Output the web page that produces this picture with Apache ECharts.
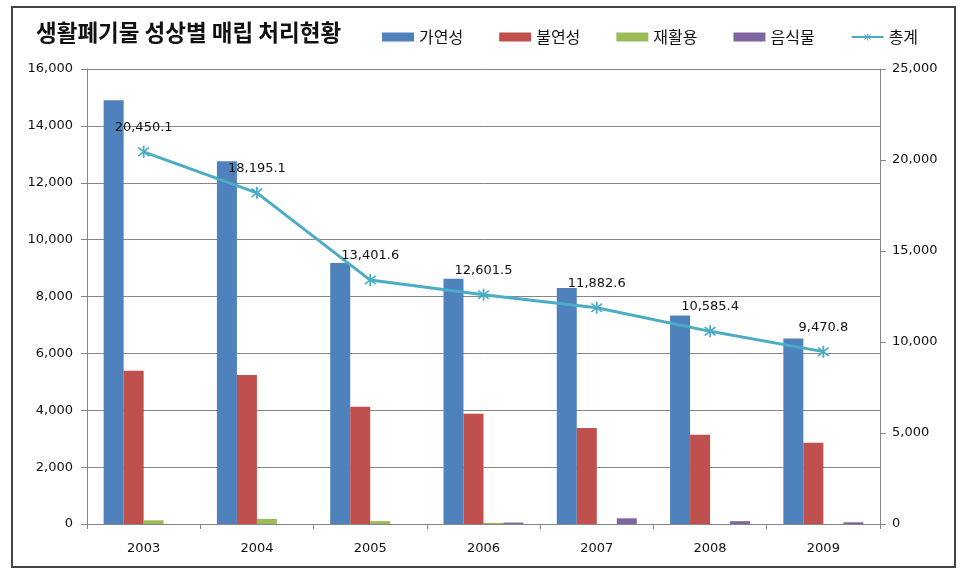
<!DOCTYPE html>
<html><head><meta charset="utf-8">
<script src="https://cdn.jsdelivr.net/npm/echarts@6/dist/echarts.min.js"></script>
<style>html,body{margin:0;padding:0;background:#fff}#c{width:966px;height:578px}</style>
</head><body><div id="c"></div>
<script>
const categories = ['2003','2004','2005','2006','2007','2008','2009'];
const combustible = [14900, 12760, 9180, 8620, 8300, 7330, 6520];
const nonCombustible = [5390, 5240, 4120, 3880, 3380, 3140, 2860];
const recycling = [130, 180, 100, 40, 0, 0, 0];
const foodWaste = [0, 0, 0, 50, 200, 100, 60];
const total = [20450.1, 18195.1, 13401.6, 12601.5, 11882.6, 10585.4, 9470.8];
const leftTicks = {min: 0, max: 16000, interval: 2000};
const rightTicks = {min: 0, max: 25000, interval: 5000};

const font = 'DejaVu Sans';
const kfont = '"Noto Sans CJK KR"';
const star = 'path://M-0.6,-5 L0.6,-5 L0.6,5 L-0.6,5 Z M-3.96,-3.11 L-3.11,-3.96 L3.96,3.11 L3.11,3.96 Z M-3.11,3.96 L-3.96,3.11 L3.11,-3.96 L3.96,-3.11 Z';
const fmt = v => v.toLocaleString('en-US');
const fmt1 = v => v.toLocaleString('en-US', {minimumFractionDigits: 1, maximumFractionDigits: 1});

const chart = echarts.init(document.getElementById('c'));
const barSeries = (name, data, color) => ({
  name, type: 'bar', data, barWidth: 20, barGap: '0%',
  itemStyle: {color}, yAxisIndex: 0
});
chart.setOption({
  animation: false,
  backgroundColor: '#fff',
  title: {text: '생활폐기물 성상별 매립 처리현황', left: 31, top: 16,
    textStyle: {fontFamily: kfont, fontSize: 22.5, fontWeight: 'bold', color: '#111'}},
  legend: {left: 377, top: 24, itemWidth: 32, itemHeight: 9, itemGap: 36,
    textStyle: {fontFamily: kfont, fontSize: 16, color: '#111'},
    data: [
      {name: '가연성', icon: 'rect'}, {name: '불연성', icon: 'rect'},
      {name: '재활용', icon: 'rect'}, {name: '음식물', icon: 'rect'}, {name: '총계'}
    ]},
  grid: {left: 87, right: 86, top: 69, bottom: 54},
  xAxis: {type: 'category', data: categories,
    axisLine: {lineStyle: {color: '#868686'}},
    axisTick: {show: true, length: 5, alignWithLabel: false, lineStyle: {color: '#868686'}},
    axisLabel: {fontFamily: font, fontSize: 13, color: '#111', margin: 18}},
  yAxis: [
    {type: 'value', min: leftTicks.min, max: leftTicks.max, interval: leftTicks.interval,
      axisLine: {show: true, lineStyle: {color: '#868686'}},
      axisTick: {show: true, length: 6, lineStyle: {color: '#868686'}},
      splitLine: {lineStyle: {color: '#868686', width: 1}},
      axisLabel: {fontFamily: font, fontSize: 13, color: '#111', margin: 14, formatter: fmt}},
    {type: 'value', min: rightTicks.min, max: rightTicks.max, interval: rightTicks.interval,
      position: 'right',
      axisLine: {show: true, lineStyle: {color: '#868686'}},
      axisTick: {show: true, length: 6, lineStyle: {color: '#868686'}},
      splitLine: {show: false},
      axisLabel: {fontFamily: font, fontSize: 13, color: '#111', margin: 12, formatter: fmt}}
  ],
  series: [
    barSeries('가연성', combustible, '#4F81BD'),
    barSeries('불연성', nonCombustible, '#C0504D'),
    barSeries('재활용', recycling, '#9BBB59'),
    barSeries('음식물', foodWaste, '#8064A2'),
    {name: '총계', type: 'line', yAxisIndex: 1, data: total,
      lineStyle: {color: '#4BACC6', width: 3},
      itemStyle: {color: '#4BACC6'},
      symbol: star, symbolSize: 12, showAllSymbol: true,
      label: {show: true, position: 'top', distance: 12, fontFamily: font, fontSize: 13,
        color: '#111', formatter: p => fmt1(p.value)}}
  ],
  graphic: [{type: 'rect', shape: {x: 12, y: 7, width: 943, height: 560},
    style: {fill: 'none', stroke: '#444', lineWidth: 2}, silent: true, z: 100}]
});
</script></body></html>
